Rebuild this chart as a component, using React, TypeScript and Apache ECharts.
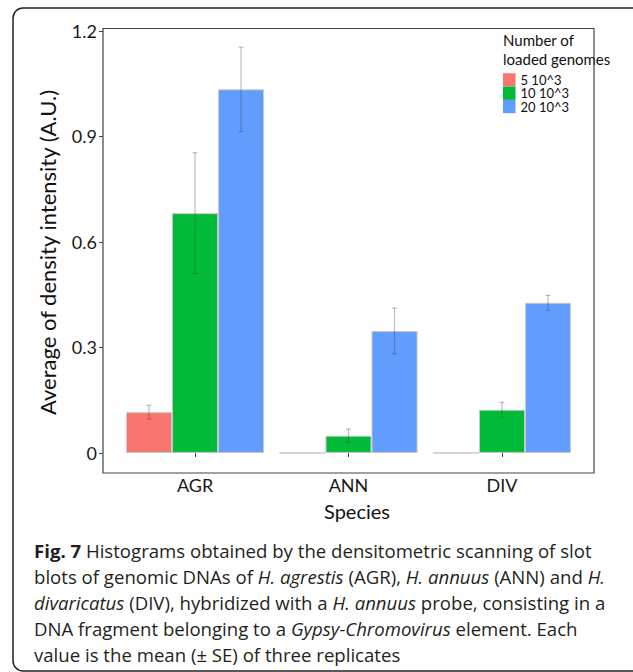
import React, { useEffect, useRef } from "react";
import * as echarts from "echarts";

const categories = ["AGR", "ANN", "DIV"];
const seriesNames = ["5 10^3", "10 10^3", "20 10^3"];
const means5 = [0.116, 0, 0];
const se5 = [0.02, 0, 0];
const means10 = [0.682, 0.049, 0.123];
const se10 = [0.172, 0.019, 0.021];
const means20 = [1.034, 0.347, 0.427];
const se20 = [0.12, 0.065, 0.021];
const yTicks = [0, 0.3, 0.6, 0.9, 1.2];
const colors = ["#F8766D", "#00BA38", "#619CFF"];

const CHART_FONT = "Lato";
const CAPTION_FONT = "Open Sans";

export default function App() {
  const ref = useRef<HTMLDivElement>(null);
  useEffect(() => {
    if (!ref.current) return;
    const chart = echarts.init(ref.current, null, { renderer: "svg" });
    const means = [means5, means10, means20];
    const ses = [se5, se10, se20];

    const barSeries = seriesNames.map((name, k) => ({
      name,
      type: "bar",
      data: means[k],
      barGap: "0%",
      barCategoryGap: "10%",
      itemStyle: { color: colors[k], borderColor: "#c8c8c8", borderWidth: 1 },
      z: 2,
    }));

    const errSeries = seriesNames.map((name, k) => ({
      name: name + " SE",
      type: "custom",
      z: 5,
      data: categories.map((_, i) => [i, means[k][i], ses[k][i]]),
      encode: { x: 0, y: 1 },
      renderItem: (params: any, api: any) => {
        const i = api.value(0);
        const m = api.value(1);
        const s = api.value(2);
        if (!m) return null;
        const band = api.size([1, 0])[0];
        const c = api.coord([i, m]);
        const x = c[0] + (k - 1) * 0.3 * band;
        const yt = api.coord([i, m + s])[1];
        const yb = api.coord([i, m - s])[1];
        const st = { stroke: "rgba(70,70,70,0.35)", lineWidth: 1.2 };
        const cap = 2.5;
        return {
          type: "group",
          children: [
            { type: "line", shape: { x1: x, y1: yt, x2: x, y2: yb }, style: st },
            { type: "line", shape: { x1: x - cap, y1: yt, x2: x + cap, y2: yt }, style: st },
            { type: "line", shape: { x1: x - cap, y1: yb, x2: x + cap, y2: yb }, style: st },
          ],
        };
      },
    }));

    const caption =
      "{b|Fig. 7} Histograms obtained by the densitometric scanning of slot\n" +
      "blots of genomic DNAs of {i|H. agrestis} (AGR), {i|H. annuus} (ANN) and {i|H.}\n" +
      "{i|divaricatus} (DIV), hybridized with a {i|H. annuus} probe, consisting in a\n" +
      "DNA fragment belonging to a {i|Gypsy-Chromovirus} element. Each\n" +
      "value is the mean (± SE) of three replicates";

    const CAP_SIZE = 18.6;
    const CAP_LH = 26;

    const option: any = {
      animation: false,
      backgroundColor: "#ffffff",
      grid: { left: 118.3, right: 54.3, top: 28, bottom: 199 },
      xAxis: {
        type: "category",
        data: categories,
        axisLine: { show: false },
        axisTick: { show: true, alignWithLabel: true, length: 4, lineStyle: { color: "#444" } },
        axisLabel: { margin: 3, fontSize: 18, color: "#1a1a1a", fontFamily: CHART_FONT },
      },
      yAxis: {
        type: "value",
        min: -0.057,
        max: 1.2085,
        offset: 15.3,
        axisLine: { show: false },
        splitLine: { show: false },
        axisTick: { show: true, length: 4, customValues: yTicks, lineStyle: { color: "#444" } },
        axisLabel: {
          customValues: yTicks,
          margin: 6,
          fontSize: 18,
          color: "#1a1a1a",
          fontFamily: CHART_FONT,
          formatter: (v: number) => (v === 0 ? "0" : v.toFixed(1)),
        },
      },
      legend: {
        data: seriesNames,
        orient: "vertical",
        left: 503,
        top: 73.3,
        padding: 0,
        itemWidth: 12.5,
        itemHeight: 13.3,
        itemGap: 0,
        icon: "rect",
        itemStyle: { borderWidth: 0 },
        textStyle: { fontSize: 13, color: "#111", fontFamily: CHART_FONT, lineHeight: 13.3 },
      },
      series: [...barSeries, ...errSeries],
      graphic: [
        {
          type: "rect",
          shape: { x: 13, y: 8, width: 700, height: 663, r: 10 },
          style: { fill: "none", stroke: "#222", lineWidth: 1.5 },
          silent: true,
          z: 100,
        },
        {
          type: "rect",
          shape: { x: 103, y: 28.5, width: 491, height: 444.5 },
          style: { fill: "none", stroke: "#444", lineWidth: 1.2 },
          silent: true,
          z: 100,
        },
        {
          type: "text",
          x: 47,
          y: 252.5,
          rotation: Math.PI / 2,
          style: {
            text: "Average of density intensity (A.U.)",
            fontSize: 22,
            fontFamily: CHART_FONT,
            fill: "#111",
            align: "center",
            verticalAlign: "middle",
          },
        },
        {
          type: "text",
          x: 357,
          y: 511,
          style: {
            text: "Species",
            fontSize: 20,
            fontFamily: CHART_FONT,
            fill: "#111",
            align: "center",
            verticalAlign: "middle",
          },
        },
        {
          type: "text",
          x: 503,
          y: 30,
          style: {
            text: "Number of\nloaded genomes",
            fontSize: 15,
            lineHeight: 19.5,
            fontFamily: CHART_FONT,
            fill: "#111",
            align: "left",
            verticalAlign: "top",
          },
        },
        {
          type: "text",
          x: 34,
          y: 537,
          style: {
            text: caption,
            fontSize: CAP_SIZE,
            lineHeight: CAP_LH,
            fontFamily: CAPTION_FONT,
            fill: "#231f20",
            align: "left",
            verticalAlign: "top",
            rich: {
              b: { fontWeight: "bold", fontSize: CAP_SIZE, fontFamily: CAPTION_FONT, fill: "#231f20", lineHeight: CAP_LH },
              i: { fontStyle: "italic", fontSize: CAP_SIZE, fontFamily: CAPTION_FONT, fill: "#231f20", lineHeight: CAP_LH },
            },
          },
        },
      ],
    };
    chart.setOption(option);
    return () => chart.dispose();
  }, []);
  return (
    <div
      ref={ref}
      style={{ position: "fixed", left: 0, top: 0, width: 633, height: 672, background: "#fff" }}
    />
  );
}
